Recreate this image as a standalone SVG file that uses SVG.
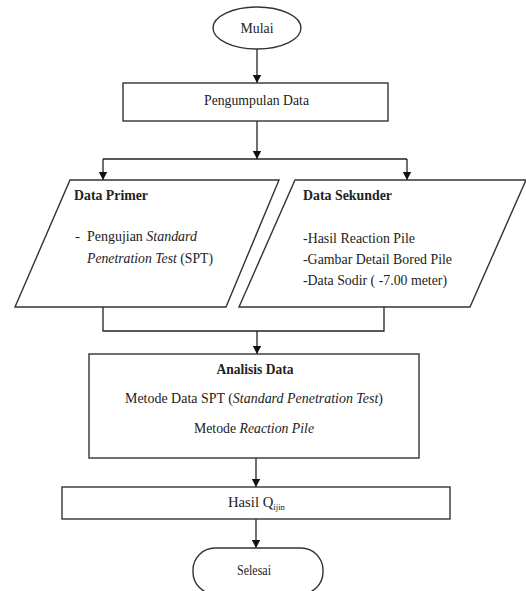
<svg xmlns="http://www.w3.org/2000/svg" width="526" height="591" viewBox="0 0 526 591">
<defs>
<marker id="ah" markerWidth="8" markerHeight="10" refX="8" refY="5" orient="auto" markerUnits="userSpaceOnUse">
<path d="M0,0.8 L8,5 L0,9.2 Z" fill="#111"/>
</marker>
<style>
.s{fill:#fff;stroke:#333;stroke-width:1.4}
.c{fill:none;stroke:#222;stroke-width:1.3}
.t{font-family:"Liberation Serif","Times New Roman",serif;font-size:15px;fill:#222}
.b{font-weight:bold}
.i{font-style:italic}
.m{text-anchor:middle}
</style>
</defs>
<rect width="526" height="591" fill="#fff"/>
<g id="connectors">
<path class="c" d="M257,49 V83" marker-end="url(#ah)"/>
<path class="c" d="M257,121 V159" marker-end="url(#ah)"/>
<path class="c" d="M103,159 H407"/>
<path class="c" d="M103,159 V180" marker-end="url(#ah)"/>
<path class="c" d="M407,159 V180" marker-end="url(#ah)"/>
<path class="c" d="M103,307 V331 H384 V307"/>
<path class="c" d="M257,331 V354" marker-end="url(#ah)"/>
<path class="c" d="M256,458 V487" marker-end="url(#ah)"/>
<path class="c" d="M256,519 V548" marker-end="url(#ah)"/>
</g>
<g id="mulai">
<ellipse class="s" cx="257" cy="28" rx="44" ry="21"/>
<text class="t m" x="257" y="33" textLength="33" lengthAdjust="spacingAndGlyphs">Mulai</text>
</g>
<g id="pengumpulan">
<rect class="s" x="123" y="83" width="265" height="38"/>
<text class="t" x="204" y="105" textLength="105" lengthAdjust="spacingAndGlyphs">Pengumpulan Data</text>
</g>
<g id="data-primer">
<polygon class="s" points="70,180 279,180 226,307 15,307"/>
<text class="t b" x="74" y="200" textLength="74" lengthAdjust="spacingAndGlyphs">Data Primer</text>
<text class="t" x="75" y="241">-</text>
<text class="t" x="87" y="241" textLength="110" lengthAdjust="spacingAndGlyphs">Pengujian <tspan class="i">Standard</tspan></text>
<text class="t" x="87" y="263" textLength="126" lengthAdjust="spacingAndGlyphs"><tspan class="i">Penetration Test</tspan> (SPT)</text>
</g>
<g id="data-sekunder">
<polygon class="s" points="295,180 526,180 470,307 239,307"/>
<text class="t b" x="303" y="200" textLength="89" lengthAdjust="spacingAndGlyphs">Data Sekunder</text>
<text class="t" x="303" y="243" textLength="112" lengthAdjust="spacingAndGlyphs">-Hasil Reaction Pile</text>
<text class="t" x="303" y="264" textLength="149" lengthAdjust="spacingAndGlyphs">-Gambar Detail Bored Pile</text>
<text class="t" x="303" y="285" textLength="144" lengthAdjust="spacingAndGlyphs">-Data Sodir ( -7.00 meter)</text>
</g>
<g id="analisis">
<rect class="s" x="89" y="354" width="330" height="104"/>
<text class="t b m" x="255" y="374" textLength="77" lengthAdjust="spacingAndGlyphs">Analisis Data</text>
<text class="t" x="125" y="403" textLength="258" lengthAdjust="spacingAndGlyphs">Metode Data SPT (<tspan class="i">Standard Penetration Test</tspan>)</text>
<text class="t" x="194" y="433" textLength="120" lengthAdjust="spacingAndGlyphs">Metode <tspan class="i">Reaction Pile</tspan></text>
</g>
<g id="hasil">
<rect class="s" x="62" y="487" width="388" height="32"/>
<text class="t" x="228" y="507" textLength="57" lengthAdjust="spacingAndGlyphs">Hasil Q<tspan font-size="9" dy="3">ijin</tspan></text>
</g>
<g id="selesai">
<rect class="s" x="193" y="548" width="130" height="46" rx="22" ry="22"/>
<text class="t m" x="254" y="575" textLength="34" lengthAdjust="spacingAndGlyphs">Selesai</text>
</g>
</svg>
